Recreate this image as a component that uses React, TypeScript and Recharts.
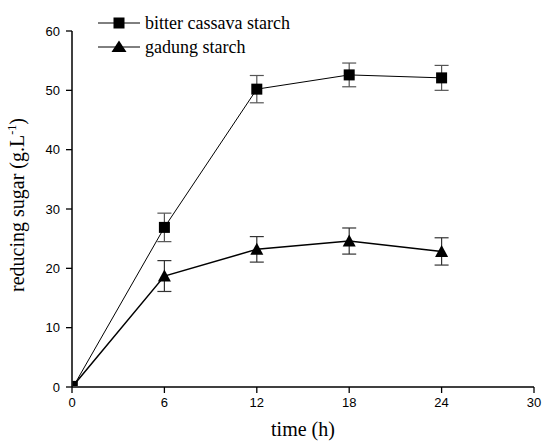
import React from 'react';
import { LineChart, Line, XAxis, YAxis, ErrorBar, Label } from 'recharts';

const hours = [0.2, 6, 12, 18, 24];
const cassava = [0.6, 26.9, 50.2, 52.6, 52.1];
const cassavaErr = [0, 2.4, 2.3, 2.0, 2.1];
const gadung = [0.6, 18.7, 23.2, 24.6, 22.85];
const gadungErr = [0, 2.6, 2.15, 2.2, 2.3];

const xTicks = [0, 6, 12, 18, 24, 30];
const xMinorTicks = [3, 9, 15, 21, 27];
const yTicks = [0, 10, 20, 30, 40, 50, 60];
const yMinorTicks = [5, 15, 25, 35, 45, 55];

const seriesNames = ['bitter cassava starch', 'gadung starch'];

const data = hours.map((h, i) => ({
  h,
  cassava: cassava[i],
  cassavaErr: cassavaErr[i],
  gadung: gadung[i],
  gadungErr: gadungErr[i],
}));

const tickStyle = { fontSize: 13, fontFamily: 'Arial, "Liberation Sans", sans-serif', fill: '#000' };
const serif = '"Liberation Serif", "Times New Roman", serif';

const SquareDot = (props: any) => {
  const { cx, cy, index } = props;
  if (cx == null || cy == null) return <g key={`s${index}`} />;
  const s = index === 0 ? 5 : 11;
  return <rect key={`s${index}`} x={cx - s / 2} y={cy - s / 2} width={s} height={s} fill="#000" />;
};

const TriDot = (props: any) => {
  const { cx, cy, index } = props;
  if (cx == null || cy == null) return <g key={`t${index}`} />;
  if (index === 0) return <rect key={`t${index}`} x={cx - 2.5} y={cy - 2.5} width={5} height={5} fill="#000" />;
  const w = 13, h = 11;
  return (
    <polygon
      key={`t${index}`}
      points={`${cx},${cy - h / 2 - 1} ${cx - w / 2},${cy + h / 2} ${cx + w / 2},${cy + h / 2}`}
      fill="#000"
    />
  );
};

const LegendBox = () => (
  <svg width={260} height={60} style={{ position: 'absolute', left: 97, top: 0, display: 'block' }}>
    {seriesNames.map((name, i) => {
      const cy = 23 + i * 24;
      return (
        <g key={name}>
          <line x1={1} y1={cy} x2={43} y2={cy} stroke="#000" strokeWidth={1} />
          {i === 0 ? (
            <rect x={16.5} y={cy - 5.5} width={11} height={11} fill="#000" />
          ) : (
            <polygon points={`22,${cy - 6.5} 14.5,${cy + 5} 29.5,${cy + 5}`} fill="#000" />
          )}
          <text x={48} y={cy + 6} fontFamily={serif} fontSize={18} fill="#000">
            {name}
          </text>
        </g>
      );
    })}
  </svg>
);

export default function App() {
  return (
    <div style={{ position: 'absolute', left: 0, top: 0, width: 542, height: 441, background: '#fff' }}>
      <LineChart width={542} height={441} data={data} margin={{ top: 31, right: 8, left: 0, bottom: 0 }}>
        <XAxis
          xAxisId="minor"
          type="number"
          domain={[0, 30]}
          ticks={xMinorTicks}
          tickSize={3}
          height={0}
          axisLine={false}
          tickLine={{ stroke: '#000', strokeWidth: 1.3 }}
          tickFormatter={() => ''}
        />
        <XAxis
          xAxisId="main"
          dataKey="h"
          type="number"
          domain={[0, 30]}
          ticks={xTicks}
          tickSize={6}
          tickMargin={5}
          height={54}
          axisLine={{ stroke: '#000', strokeWidth: 1.5 }}
          tickLine={{ stroke: '#000', strokeWidth: 1.3 }}
          tick={tickStyle}
        >
          <Label
            content={(p: any) => {
              const vb = p.viewBox || {};
              return (
                <text x={vb.x + vb.width / 2} y={436} textAnchor="middle" fontFamily={serif} fontSize={20} fill="#000">
                  time (h)
                </text>
              );
            }}
          />
        </XAxis>
        <YAxis
          yAxisId="minor"
          type="number"
          domain={[0, 60]}
          ticks={yMinorTicks}
          tickSize={3}
          width={0}
          axisLine={false}
          tickLine={{ stroke: '#000', strokeWidth: 1.3 }}
          tickFormatter={() => ''}
        />
        <YAxis
          yAxisId="main"
          type="number"
          domain={[0, 60]}
          ticks={yTicks}
          tickSize={6}
          tickMargin={6}
          width={72}
          axisLine={{ stroke: '#000', strokeWidth: 1.5 }}
          tickLine={{ stroke: '#000', strokeWidth: 1.3 }}
          tick={tickStyle}
        >
          <Label
            content={(p: any) => {
              const vb = p.viewBox || {};
              const cy = vb.y + vb.height / 2 - 4;
              return (
                <text
                  x={24}
                  y={cy}
                  transform={`rotate(-90, 24, ${cy})`}
                  textAnchor="middle"
                  fontFamily={serif}
                  fontSize={20}
                  fill="#000"
                >
                  reducing sugar (g.L
                  <tspan dy={-8} fontSize={12}>-1</tspan>
                  <tspan dy={8}>)</tspan>
                </text>
              );
            }}
          />
        </YAxis>
        <Line
          xAxisId="main"
          yAxisId="main"
          dataKey="cassava"
          name={seriesNames[0]}
          stroke="#000"
          strokeWidth={1}
          dot={SquareDot}
          activeDot={false}
          isAnimationActive={false}
        >
          <ErrorBar dataKey="cassavaErr" direction="y" width={7} stroke="#555" strokeWidth={1.2} />
        </Line>
        <Line
          xAxisId="main"
          yAxisId="main"
          dataKey="gadung"
          name={seriesNames[1]}
          stroke="#000"
          strokeWidth={1.5}
          dot={TriDot}
          activeDot={false}
          isAnimationActive={false}
        >
          <ErrorBar dataKey="gadungErr" direction="y" width={7} stroke="#333" strokeWidth={1.2} />
        </Line>
      </LineChart>
      <LegendBox />
    </div>
  );
}
